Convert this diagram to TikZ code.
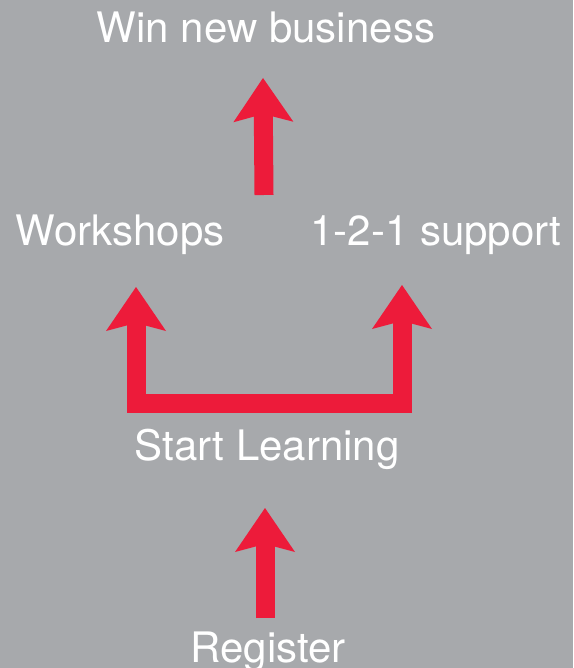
\documentclass[tikz,border=0pt]{standalone}
\usepackage{fontspec}
\setmainfont{TeX Gyre Heros}
\usetikzlibrary{arrows.meta}
\definecolor{bggray}{RGB}{167,169,172}
\definecolor{arrowred}{RGB}{237,27,58}
\tikzstyle{stage} = [text=white, font=\fontsize{42}{50}\selectfont, anchor=base, inner sep=0pt]
\tikzstyle{arrow} = [draw=arrowred, line width=19pt, line join=miter,
  arrows={-Stealth[length=44pt, width=60pt, inset=8pt, line width=0pt, fill=arrowred]}]
\tikzstyle{twoway} = [arrow,
  arrows={Stealth[length=44pt, width=60pt, inset=8pt, line width=0pt, fill=arrowred]-Stealth[length=44pt, width=60pt, inset=8pt, line width=0pt, fill=arrowred]}]

\begin{document}
\begin{tikzpicture}[x=1pt, y=-1pt]
    \fill[bggray] (0,0) rectangle (573,668);
    \useasboundingbox (0,0) rectangle (573,668);

        % Define nodes
        \node[stage] (win) at (266,43) {Win new business};
        \node[stage] (work) at (120,245) {Workshops};
        \node[stage] (supp) at (436,245) {1-2-1 support};
        \node[stage] (start) at (267,460) {Start Learning};
        \node[stage] (reg) at (268,662) {Register};

        % Arrow ends
        \coordinate (regtop) at (265,618);
        \coordinate (starttip) at (265,508);
        \coordinate (midtop) at (264,195);
        \coordinate (wintip) at (263,78);
        \coordinate (worktip) at (136,287);
        \coordinate (bar) at (270,403);
        \coordinate (supptip) at (402,285);

        % Draw thick red arrows
        \draw[arrow] (regtop) -- (starttip);
        \draw[twoway] (worktip) |- (bar) -| (supptip);
        \draw[arrow] (midtop) -- (wintip);

\end{tikzpicture}
\end{document}
